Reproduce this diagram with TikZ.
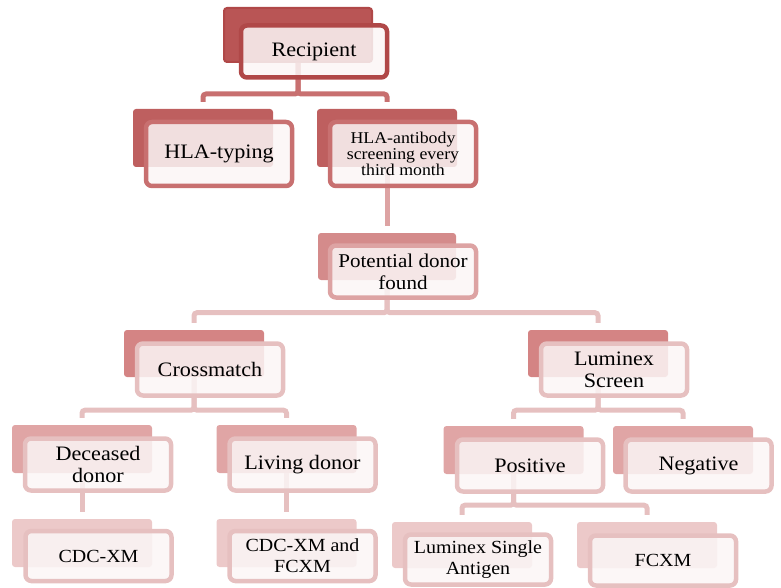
\documentclass[tikz,border=0pt]{standalone}
\usepackage{fontspec}
\setmainfont{Liberation Serif}[FakeStretch=1.08]
\usetikzlibrary{positioning}
\definecolor{backA}{HTML}{B95555}
\definecolor{backB}{HTML}{BE5F5F}
\definecolor{backC}{HTML}{D48B8B}
\definecolor{backD}{HTML}{D48484}
\definecolor{backE}{HTML}{E0A5A5}
\definecolor{backF}{HTML}{ECC9C9}
\definecolor{edgeA}{HTML}{B04848}
\definecolor{edgeB}{HTML}{C87070}
\definecolor{edgeC}{HTML}{DDA3A3}
\definecolor{edgeD}{HTML}{E6C0C0}
\definecolor{paper}{HTML}{FBF6F6}
\tikzset{
  back/.style={rectangle, rounded corners=3pt, minimum width=140pt, minimum height=48pt, inner sep=0pt},
  front/.style={rectangle, rounded corners=6pt, line width=4.5pt, minimum width=146pt, minimum height=52pt,
    inner sep=2pt, align=center, fill=paper, fill opacity=.85, text opacity=1,
    font=\fontsize{20.5}{22}\selectfont},
  link/.style={line width=5pt, rounded corners=3pt, shorten >=7pt}
}
\begin{document}
\begin{tikzpicture}[x=1pt,y=-1pt]
  \useasboundingbox (0,0) rectangle (781,588);
  % shadow boxes
  \node[back,fill=backA,draw=edgeA,line width=2pt,minimum width=148pt,minimum height=54pt] (rcp) at (298,35) {};
  \node[back,fill=backB,minimum height=58pt] (typ) at (203,138) {};
  \node[back,fill=backB,minimum height=58pt] (abs) at (387,138) {};
  \node[back,fill=backC,minimum width=138pt,minimum height=47pt] (pot) at (387,256.5) {};
  \node[back,fill=backD,minimum height=47pt] (xm) at (194,353.5) {};
  \node[back,fill=backD,minimum height=47pt] (lum) at (598,353.5) {};
  \node[back,fill=backE] (dec) at (82,449) {};
  \node[back,fill=backE] (liv) at (286.5,449) {};
  \node[back,fill=backE] (pos) at (513.5,450) {};
  \node[back,fill=backE] (neg) at (683,450) {};
  \node[back,fill=backF] (cdc) at (82,543) {};
  \node[back,fill=backF] (cdcf) at (286.5,543) {};
  \node[back,fill=backF,minimum height=46pt] (lsa) at (462,545) {};
  \node[back,fill=backF,minimum height=46pt] (fc) at (647,545) {};
  % connectors
  \draw[link,draw=edgeB] (rcp.south) -- ++(0,31) -| (typ.north);
  \draw[link,draw=edgeB] (rcp.south) -- ++(0,31) -| (abs.north);
  \draw[link,draw=edgeC] (abs.south) -- (pot.north);
  \draw[link,draw=edgeD] (pot.south) -- ++(0,32.5) -| (xm.north);
  \draw[link,draw=edgeD] (pot.south) -- ++(0,32.5) -| (lum.north);
  \draw[link,draw=edgeD] (xm.south) -- ++(0,33) -| (dec.north);
  \draw[link,draw=edgeD] (xm.south) -- ++(0,33) -| (liv.north);
  \draw[link,draw=edgeD] (lum.south) -- ++(0,33) -| (pos.north);
  \draw[link,draw=edgeD] (lum.south) -- ++(0,33) -| (neg.north);
  \draw[link,draw=edgeD] (dec.south) -- (cdc.north);
  \draw[link,draw=edgeD] (liv.south) -- (cdcf.north);
  \draw[link,draw=edgeD] (pos.south) -- ++(0,31) -| (lsa.north);
  \draw[link,draw=edgeD] (pos.south) -- ++(0,31) -| (fc.north);
  % front boxes
  \node[front,draw=edgeA] (rcpT) at ([shift={(16,16.5)}]rcp) {Recipient};
  \node[front,draw=edgeB,minimum height=64pt] (typT) at ([shift={(16,16)}]typ) {HLA-typing};
  \node[front,draw=edgeB,minimum height=64pt,font=\fontsize{16.5}{16}\selectfont] (absT) at ([shift={(16,16)}]abs) {HLA-antibody\\screening every\\third month};
  \node[front,draw=edgeC,font=\fontsize{19.5}{22}\selectfont] (potT) at ([shift={(16,15)}]pot) {Potential donor\\found};
  \node[front,draw=edgeD] (xmT) at ([shift={(16,16)}]xm) {Crossmatch};
  \node[front,draw=edgeD] (lumT) at ([shift={(16,16)}]lum) {Luminex\\Screen};
  \node[front,draw=edgeD] (decT) at ([shift={(16,15.5)}]dec) {Deceased\\donor};
  \node[front,draw=edgeD] (livT) at ([shift={(16,15.5)}]liv) {Living donor};
  \node[front,draw=edgeD] (posT) at ([shift={(16.5,15.5)}]pos) {Positive};
  \node[front,draw=edgeD] (negT) at ([shift={(15.5,15.5)}]neg) {Negative};
  \node[front,draw=edgeD,minimum height=50pt,font=\fontsize{18.5}{21}\selectfont] (cdcT) at ([shift={(16.5,13)}]cdc) {CDC-XM};
  \node[front,draw=edgeD,minimum height=50pt,font=\fontsize{18.5}{21}\selectfont] (cdcfT) at ([shift={(16,13)}]cdcf) {CDC-XM and\\FCXM};
  \node[front,draw=edgeD,minimum height=50pt,font=\fontsize{18.5}{21}\selectfont] (lsaT) at ([shift={(16,14.5)}]lsa) {Luminex Single\\Antigen};
  \node[front,draw=edgeD,minimum height=50pt,font=\fontsize{18.5}{21}\selectfont] (fcT) at ([shift={(16,15.5)}]fc) {FCXM};
\end{tikzpicture}
\end{document}
